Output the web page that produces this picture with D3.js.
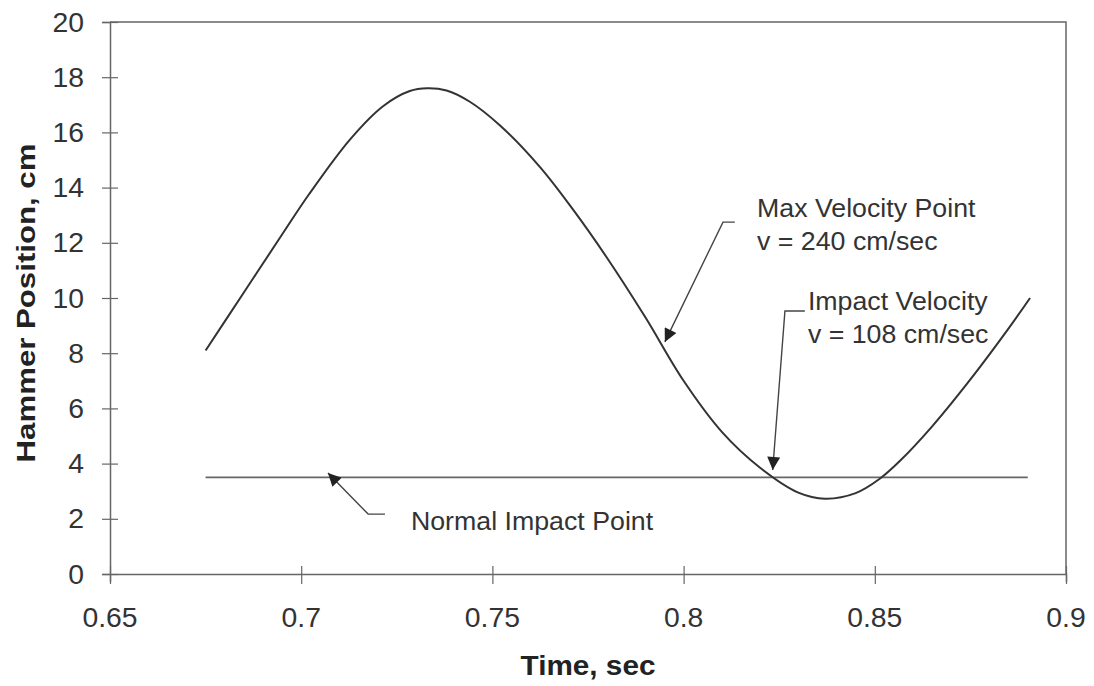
<!DOCTYPE html>
<html>
<head>
  <meta charset='utf-8'>
  <title>Hammer Position vs Time</title>
  <style>
    body { margin: 0; background: #fff; }
    svg text { font-family: "Liberation Sans", Arial, sans-serif; fill: #333; }
  </style>
</head>
<body>
<div id="chart"></div>
<script src="https://d3js.org/d3.v7.min.js"></script>
<script>
  // values
  var time = [0.675, 0.685, 0.695, 0.702, 0.7128, 0.7214, 0.7284, 0.733, 0.738, 0.744, 0.752,
    0.7624, 0.7711, 0.78, 0.79, 0.80, 0.81, 0.82, 0.83, 0.837, 0.845,
    0.8513, 0.8566, 0.865, 0.875, 0.885, 0.8906];
  var position = [8.1, 10.2, 12.3, 13.75, 15.75, 16.95, 17.5, 17.6, 17.52, 17.12, 16.25,
    14.75, 13.2, 11.45, 9.3, 7.0, 5.15, 3.85, 2.95, 2.73, 2.93,
    3.45, 4.1, 5.35, 7.05, 8.9, 10.0];
  var impactLevel = 3.5;
  var impactRange = [0.675, 0.89];
  var xTicks = [0.65, 0.7, 0.75, 0.8, 0.85, 0.9];
  var yTicks = [0, 2, 4, 6, 8, 10, 12, 14, 16, 18, 20];
  var annLabels = [
    ["Max Velocity Point", "v = 240 cm/sec"],
    ["Impact Velocity", "v = 108 cm/sec"],
    ["Normal Impact Point"]
  ];
  // leader lines: [end, elbow, tip] in data units, text anchor [x, y]
  var annLeaders = [
    [[0.8134, 12.75], [0.8103, 12.75], [0.7951, 8.41]],
    [[0.8317, 9.53], [0.8265, 9.53], [0.8233, 3.77]],
    [[0.7219, 2.17], [0.7175, 2.17], [0.707, 3.66]]
  ];
  var annText = [[0.8192, 12.93], [0.8325, 9.57], [0.7287, 1.59]];

  const AXIS_COLOR = "#666";
  const LINE_COLOR = "#333";

  var W = 1094, H = 686;
  var x0 = 110, x1 = 1066, yTop = 22, yBot = 574;

  var svg = d3.select("#chart").append("svg")
    .attr("width", W).attr("height", H);

  var x = d3.scaleLinear().domain([0.65, 0.9]).range([x0, x1]);
  var y = d3.scaleLinear().domain([0, 20]).range([yBot, yTop]);

  // glyphs in the scan are a bit wider than Liberation Sans, so stretch them
  function wideText(g, px, py, str, size, anchor, stretch, rot) {
    return g.append("text")
      .attr("transform", "translate(" + px + "," + py + ")" + (rot ? " rotate(" + rot + ")" : "") + " scale(" + stretch + ",1)")
      .attr("font-size", size)
      .attr("text-anchor", anchor || "start")
      .text(str);
  }

  // frame (top and right)
  svg.append("path")
    .attr("d", "M" + x0 + "," + yTop + "H" + x1 + "V" + yBot)
    .attr("fill", "none").attr("stroke", AXIS_COLOR).attr("stroke-width", 1.5);

  // x axis
  var xAxis = svg.append("g")
    .attr("transform", "translate(0," + yBot + ")")
    .call(d3.axisBottom(x).tickValues(xTicks).tickSize(8).tickFormat(""));
  xAxis.select(".domain").attr("stroke", AXIS_COLOR).attr("stroke-width", 1.5);
  xAxis.selectAll(".tick line").attr("y1", -8).attr("y2", 10).attr("stroke", AXIS_COLOR).attr("stroke-width", 1.2);
  xTicks.forEach(function (v) {
    wideText(svg, x(v), 627, String(v), 27, "middle", 1.05);
  });

  // y axis
  var yAxis = svg.append("g")
    .attr("transform", "translate(" + x0 + ",0)")
    .call(d3.axisLeft(y).tickValues(yTicks).tickSize(8).tickFormat(""));
  yAxis.select(".domain").attr("stroke", AXIS_COLOR).attr("stroke-width", 1.5);
  yAxis.selectAll(".tick line").attr("x1", -8).attr("x2", 8).attr("stroke", AXIS_COLOR).attr("stroke-width", 1.2);
  yTicks.forEach(function (v) {
    wideText(svg, 84, y(v) + 9.5, String(v), 27, "end", 1.05);
  });

  // axis titles
  wideText(svg, 588, 675, "Time, sec", 27, "middle", 1.1).attr("font-weight", "bold").style("fill", "#222");
  wideText(svg, 35, 303, "Hammer Position, cm", 26, "middle", 1.2, -90).attr("font-weight", "bold").style("fill", "#222");

  // normal impact level
  svg.append("line")
    .attr("x1", x(impactRange[0])).attr("x2", x(impactRange[1]))
    .attr("y1", y(impactLevel)).attr("y2", y(impactLevel))
    .attr("stroke", "#666").attr("stroke-width", 1.6);

  // hammer position curve
  var pts = time.map(function (t, i) { return [t, position[i]]; });
  svg.append("path")
    .datum(pts)
    .attr("fill", "none")
    .attr("stroke", LINE_COLOR)
    .attr("stroke-width", 2)
    .attr("d", d3.line()
      .x(function (d) { return x(d[0]); })
      .y(function (d) { return y(d[1]); })
      .curve(d3.curveCatmullRom));

  // arrow marker
  svg.append("defs").append("marker")
    .attr("id", "arrow")
    .attr("viewBox", "0 0 10 10")
    .attr("refX", 10).attr("refY", 5)
    .attr("markerWidth", 16).attr("markerHeight", 13)
    .attr("markerUnits", "userSpaceOnUse")
    .attr("orient", "auto")
    .append("path").attr("d", "M0,0L10,5L0,10Z").attr("fill", "#222");

  // annotations
  annLeaders.forEach(function (l, i) {
    svg.append("path")
      .datum(l)
      .attr("fill", "none")
      .attr("stroke", "#444")
      .attr("stroke-width", 1.4)
      .attr("marker-end", "url(#arrow)")
      .attr("d", d3.line().x(function (d) { return x(d[0]); }).y(function (d) { return y(d[1]); }));
    annLabels[i].forEach(function (s, j) {
      wideText(svg, x(annText[i][0]), y(annText[i][1]) + j * 33, s, 25, "start", 1.07);
    });
  });
</script>
</body>
</html>
